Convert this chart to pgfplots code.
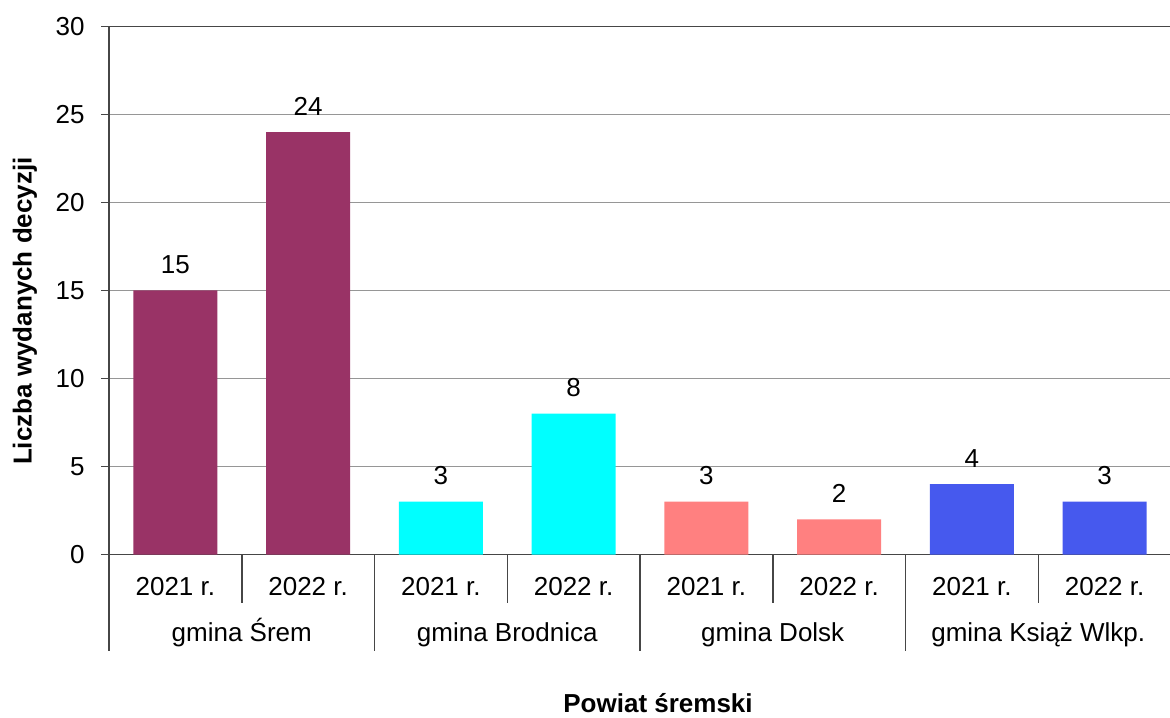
\documentclass[border=0pt]{standalone}
\usepackage{fontspec}
\setmainfont{Liberation Sans}
\usepackage{pgfplots}
\pgfplotsset{compat=1.18}
\definecolor{srem}{HTML}{993366}
\definecolor{brod}{HTML}{00FFFF}
\definecolor{dolsk}{HTML}{FF8080}
\definecolor{ksiaz}{HTML}{4659EE}
\definecolor{gridc}{RGB}{150,150,150}
\definecolor{sepc}{RGB}{70,70,70}

\begin{document}
\begin{tikzpicture}
  \fontsize{13}{15.6}\selectfont
  \path[use as bounding box] (0,0) rectangle (585pt,358.5pt);
  \begin{axis}[
      at={(54.5pt,81.25pt)}, anchor=south west,
      scale only axis, width=531pt, height=264pt,
      xmin=-0.5, xmax=7.5, ymin=0, ymax=30,
      ytick={0,5,...,30},
      xtick={0,...,7},
      xticklabels={2021 r.,2022 r.,2021 r.,2022 r.,2021 r.,2022 r.,2021 r.,2022 r.},
      xtick style={draw=none},
      xticklabel style={anchor=base, yshift=-16.5pt, inner sep=0pt},
      yticklabel style={anchor=east, inner sep=0pt, xshift=-8pt},
      tick label style={font=\fontsize{13}{15.6}\selectfont},
      /pgf/number format/assume math mode=true,
      axis x line*=bottom, axis y line*=left,
      axis line style={sepc, line width=0.75pt},
      ytick pos=left, tick align=outside, major tick length=4pt,
      ytick style={sepc, line width=0.75pt},
      ymajorgrids, grid style={gridc, line width=0.5pt},
      clip=false,
      nodes near coords,
      every node near coord/.append style={anchor=base, yshift=8.5pt,
        font=\fontsize{13}{15.6}\selectfont, inner sep=0pt},
      xlabel={\bfseries Powiat śremski},
      xlabel style={at={(axis description cs:0.517,-0.299)}, anchor=base, inner sep=0pt},
      ylabel={\bfseries Liczba wydanych decyzji},
      ylabel style={at={(axis description cs:-0.0791,0.461)}, anchor=center, inner sep=0pt},
      label style={font=\fontsize{13}{15.6}\selectfont},
    ]
    \addplot[ybar, bar shift=0pt, bar width=42pt, fill=srem, draw=none]
      coordinates {(0,15) (1,24)};
    \addplot[ybar, bar shift=0pt, bar width=42pt, fill=brod, draw=none]
      coordinates {(2,3) (3,8)};
    \addplot[ybar, bar shift=0pt, bar width=42pt, fill=dolsk, draw=none]
      coordinates {(4,3) (5,2)};
    \addplot[ybar, bar shift=0pt, bar width=42pt, fill=ksiaz, draw=none]
      coordinates {(6,4) (7,3)};

    % top line
    \draw[sepc, line width=0.75pt] (axis cs:-0.5,30) -- (axis cs:7.5,30);
    % year separators
    \draw[sepc, line width=0.75pt] (axis cs:0.5,0) -- ([yshift=-24pt]axis cs:0.5,0);
    \draw[sepc, line width=0.75pt] (axis cs:2.5,0) -- ([yshift=-24pt]axis cs:2.5,0);
    \draw[sepc, line width=0.75pt] (axis cs:4.5,0) -- ([yshift=-24pt]axis cs:4.5,0);
    \draw[sepc, line width=0.75pt] (axis cs:6.5,0) -- ([yshift=-24pt]axis cs:6.5,0);
    % group separators
    \draw[sepc, line width=0.75pt] (axis cs:-0.5,0) -- ([yshift=-48pt]axis cs:-0.5,0);
    \draw[sepc, line width=0.75pt] (axis cs:1.5,0) -- ([yshift=-48pt]axis cs:1.5,0);
    \draw[sepc, line width=0.75pt] (axis cs:3.5,0) -- ([yshift=-48pt]axis cs:3.5,0);
    \draw[sepc, line width=0.75pt] (axis cs:5.5,0) -- ([yshift=-48pt]axis cs:5.5,0);
    % group labels
    \node[anchor=base, inner sep=0pt] at ([yshift=-43.5pt]axis cs:0.5,0) {gmina Śrem};
    \node[anchor=base, inner sep=0pt] at ([yshift=-43.5pt]axis cs:2.5,0) {gmina Brodnica};
    \node[anchor=base, inner sep=0pt] at ([yshift=-43.5pt]axis cs:4.5,0) {gmina Dolsk};
    \node[anchor=base, inner sep=0pt] at ([yshift=-43.5pt]axis cs:6.5,0) {gmina Książ Wlkp.};
  \end{axis}
\end{tikzpicture}
\end{document}
